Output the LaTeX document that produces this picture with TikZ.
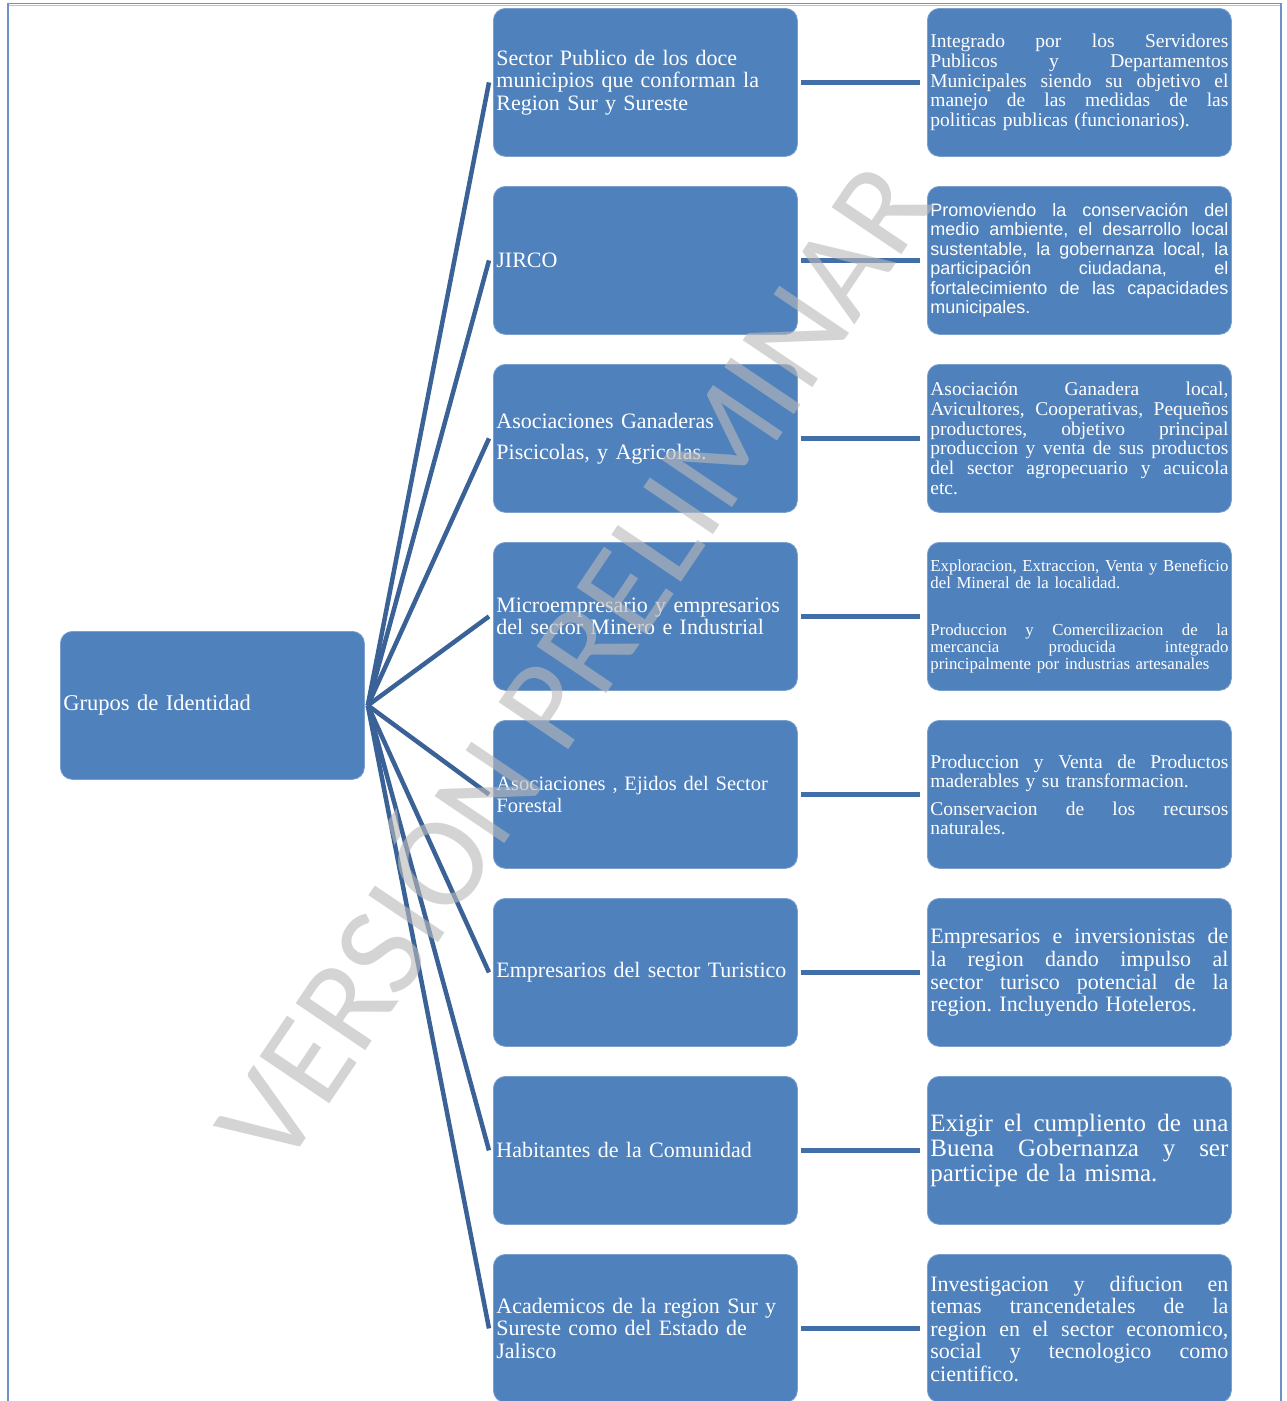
\documentclass[tikz,border=0pt]{standalone}
\usepackage{fontspec}
\setmainfont{Liberation Serif}
\newfontfamily\arialfam{Liberation Sans}
\newfontfamily\wmfam{Carlito}
\frenchspacing
\newcommand{\jl}[1]{\makebox[298pt][s]{\spaceskip=\fontdimen2\font plus 1fil\relax\xspaceskip=\fontdimen2\font plus 1fil\relax #1}}
\definecolor{boxblue}{RGB}{79,129,189}
\definecolor{fanc}{RGB}{58,98,150}
\definecolor{linkc}{RGB}{66,111,168}
\definecolor{framec}{RGB}{110,145,200}
\definecolor{framel}{RGB}{170,195,230}
\definecolor{wmgray}{RGB}{185,185,185}
\begin{document}
\begin{tikzpicture}[x=1pt,y=-1pt,
  gbox/.style={rectangle, rounded corners=12pt, fill=boxblue, draw=boxblue!75!white,
    line width=0.8pt, text=white, minimum height=148pt, text width=298pt,
    inner xsep=3pt, inner ysep=0pt, align=left, anchor=north west},
  midtxt/.style={font=\fontsize{22}{22.5}\selectfont},
  fan/.style={draw=fanc, line width=4.5pt},
  link/.style={draw=linkc, line width=5.5pt},
  wmtext/.style={rotate=56, text=wmgray, opacity=0.62, font=\wmfam\fontsize{131}{131}\selectfont,
    text height=84pt, text depth=0pt, inner sep=0pt}]
\useasboundingbox (0,0) rectangle (1287,1401);
% frame
\draw[framec, line width=1.5pt] (8,3.5) -- (1281,3.5);
\draw[framel, line width=1pt] (8,5.5) -- (1281,5.5);
\draw[framec, line width=1.2pt] (8,3) -- (8,1401);
\draw[framec, line width=1.2pt] (1281,3) -- (1281,1401);
% root
\node[gbox, font=\fontsize{22.5}{22.5}\selectfont] (g) at (60,631) {Grupos de Identidad};
% middle column
\node[gbox, midtxt] (m1) at (493,8) {Sector Publico de los doce\\municipios que conforman la\\Region Sur y Sureste};
\node[gbox, midtxt] (m2) at (493,186) {JIRCO};
\node[gbox, midtxt] (m3) at (493,364) {Asociaciones Ganaderas\\[8.5pt]Piscicolas, y Agricolas.};
\node[gbox, midtxt] (m4) at (493,542) {Microempresario y empresarios\\del sector Minero e Industrial};
\node[gbox, font=\fontsize{20.5}{22.5}\selectfont] (m5) at (493,720) {Asociaciones , Ejidos del Sector\\Forestal};
\node[gbox, midtxt] (m6) at (493,898) {Empresarios del sector Turistico};
\node[gbox, midtxt] (m7) at (493,1076) {Habitantes de la Comunidad};
\node[gbox, midtxt] (m8) at (493,1254) {Academicos de la region Sur y\\Sureste como del Estado de\\Jalisco};
% right column
\node[gbox, font=\fontsize{19.5}{19.7}\selectfont] (r1) at (927,8) {\jl{Integrado por los Servidores}\\\jl{Publicos y Departamentos}\\\jl{Municipales siendo su objetivo el}\\\jl{manejo de las medidas de las}\\politicas publicas (funcionarios).};
\node[gbox, font=\arialfam\fontsize{18}{19.5}\selectfont] (r2) at (927,186) {\jl{Promoviendo la conservación del}\\\jl{medio ambiente, el desarrollo local}\\\jl{sustentable, la gobernanza local, la}\\\jl{participación ciudadana, el}\\\jl{fortalecimiento de las capacidades}\\municipales.};
\node[gbox, font=\fontsize{19.5}{19.7}\selectfont] (r3) at (927,364) {\jl{Asociación Ganadera local,}\\\jl{Avicultores, Cooperativas, Pequeños}\\\jl{productores, objetivo principal}\\\jl{produccion y venta de sus productos}\\\jl{del sector agropecuario y acuicola}\\etc.};
\node[gbox, font=\fontsize{16.8}{17}\selectfont] (r4) at (927,542) {\jl{Exploracion, Extraccion, Venta y Beneficio}\\del Mineral de la localidad.\\[30pt]\jl{Produccion y Comercilizacion de la}\\\jl{mercancia producida integrado}\\principalmente por industrias artesanales};
\node[gbox, font=\fontsize{19.5}{19}\selectfont] (r5) at (927,720) {\jl{Produccion y Venta de Productos}\\maderables y su transformacion.\\[9pt]\jl{Conservacion de los recursos}\\naturales.};
\node[gbox, font=\fontsize{22}{22.7}\selectfont] (r6) at (927,898) {\jl{Empresarios e inversionistas de}\\\jl{la region dando impulso al}\\\jl{sector turisco potencial de la}\\region. Incluyendo Hoteleros.};
\node[gbox, font=\fontsize{25}{25}\selectfont] (r7) at (927,1076) {\jl{Exigir el cumpliento de una}\\\jl{Buena Gobernanza y ser}\\participe de la misma.};
\node[gbox, font=\fontsize{22}{22.5}\selectfont] (r8) at (927,1254) {\jl{Investigacion y difucion en}\\\jl{temas trancendetales de la}\\\jl{region en el sector economico,}\\\jl{social y tecnologico como}\\cientifico.};
% connectors
\foreach \i in {1,...,8} {
  \draw[fan] ([xshift=3pt]g.east) -- ([xshift=-4pt]m\i.west);
  \draw[link] ([xshift=3pt]m\i.east) -- ([xshift=-7pt]r\i.west);
}
% watermark
\node[wmtext] (wm) at (575,665) {VERSIÓN PRELIMINAR};
\end{tikzpicture}
\end{document}
